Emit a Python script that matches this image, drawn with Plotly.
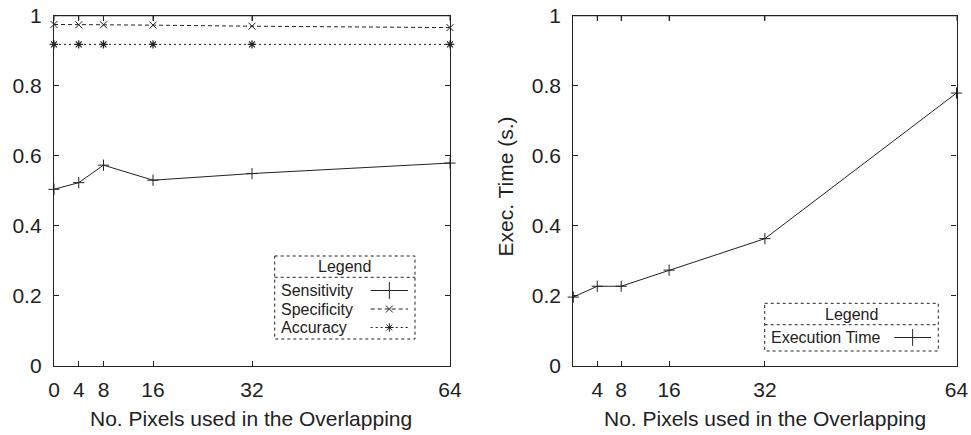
import plotly.graph_objects as go

W, H = 971, 435

# ---- data ----
pixels = [0, 4, 8, 16, 32, 64]
sensitivity = [0.504, 0.523, 0.573, 0.530, 0.549, 0.579]
specificity = [0.975, 0.974, 0.974, 0.973, 0.970, 0.966]
accuracy = [0.918, 0.918, 0.918, 0.918, 0.918, 0.918]
exec_time = [0.196, 0.227, 0.227, 0.273, 0.363, 0.779]

left_xticks = [0, 4, 8, 16, 32, 64]
right_xticks = [4, 8, 16, 32, 64]
yticks = [0, 0.2, 0.4, 0.6, 0.8, 1]
ytick_text = ["0", "0.2", "0.4", "0.6", "0.8", "1"]

FONT = "Liberation Sans, Arial, Helvetica, sans-serif"
INK = "#222222"
BIG = 21
TICKLEN = 5
PLOT_TOP, PLOT_BOTTOM = 15.7, 365.7

def px_x(v):
    return v / W

def px_y(v):
    return 1 - v / H

fig = go.Figure()

mk = dict(color=INK, size=8, line=dict(color=INK, width=1))

fig.add_trace(go.Scatter(x=pixels, y=sensitivity, mode="lines+markers",
                         line=dict(color=INK, width=1),
                         marker=dict(symbol="cross-thin-open", **mk),
                         xaxis="x", yaxis="y", showlegend=False, cliponaxis=False))
fig.add_trace(go.Scatter(x=pixels, y=specificity, mode="lines+markers",
                         line=dict(color=INK, width=1, dash="4px,3px"),
                         marker=dict(symbol="x-thin-open", color=INK, size=7,
                                     line=dict(color=INK, width=1)),
                         xaxis="x", yaxis="y", showlegend=False, cliponaxis=False))
fig.add_trace(go.Scatter(x=pixels, y=accuracy, mode="lines+markers",
                         line=dict(color=INK, width=1, dash="2px,3px"),
                         marker=dict(symbol="asterisk-open", color=INK, size=7,
                                     line=dict(color=INK, width=1.2)),
                         xaxis="x", yaxis="y", showlegend=False, cliponaxis=False))
fig.add_trace(go.Scatter(x=pixels, y=exec_time, mode="lines+markers",
                         line=dict(color=INK, width=1),
                         marker=dict(symbol="cross-thin-open", **mk),
                         xaxis="x2", yaxis="y2", showlegend=False, cliponaxis=False))

ydom = [px_y(PLOT_BOTTOM), px_y(PLOT_TOP)]
axis_common = dict(showline=True, linecolor=INK, linewidth=1.3, mirror="allticks",
                   ticks="inside", ticklen=TICKLEN, tickcolor=INK, tickwidth=1,
                   showgrid=False, zeroline=False, automargin=False,
                   ticklabeloverflow="allow",
                   tickfont=dict(family=FONT, size=BIG, color=INK))

fig.update_layout(
    width=W, height=H,
    margin=dict(l=0, r=0, t=0, b=0),
    paper_bgcolor="white", plot_bgcolor="rgba(0,0,0,0)",
    font=dict(family=FONT, color=INK),
    xaxis=dict(domain=[px_x(54), px_x(450)], range=[0, 64],
               tickvals=left_xticks, ticktext=[str(v) for v in left_xticks],
               ticklabelstandoff=5, anchor="y", **axis_common),
    yaxis=dict(domain=ydom, range=[0, 1], tickvals=yticks, ticktext=ytick_text,
               ticklabelstandoff=7, anchor="x", **axis_common),
    xaxis2=dict(domain=[px_x(573.3), px_x(956.5)], range=[0, 64],
                tickvals=right_xticks, ticktext=[str(v) for v in right_xticks],
                ticklabelstandoff=5, anchor="y2", **axis_common),
    yaxis2=dict(domain=ydom, range=[0, 1], tickvals=yticks, ticktext=ytick_text,
                ticklabelstandoff=7, anchor="x2", **axis_common),
    # overlay axis in pixel units for legend samples
    xaxis3=dict(domain=[0, 1], range=[0, W], visible=False, anchor="y3"),
    yaxis3=dict(domain=[0, 1], range=[H, 0], visible=False, anchor="x3"),
)

annotations = []
shapes = []

# top frame line and top ticks (mirrored x axis) for both panels
tick_frac = TICKLEN / (PLOT_BOTTOM - PLOT_TOP)
for xr, yr, ticks in (("x", "y", left_xticks), ("x2", "y2", right_xticks)):
    shapes.append(dict(type="line", xref=f"{xr} domain", yref=f"{yr} domain",
                       x0=0, x1=1, y0=1, y1=1, line=dict(color=INK, width=1.3),
                       layer="above"))
    for v in ticks:
        shapes.append(dict(type="line", xref=xr, yref=f"{yr} domain",
                           x0=v, x1=v, y0=1, y1=1 - tick_frac,
                           line=dict(color=INK, width=1), layer="above"))

# axis titles
for cx in (251, 765):
    annotations.append(dict(text="No. Pixels used in the Overlapping", x=px_x(cx), y=px_y(418),
                            xref="paper", yref="paper", showarrow=False,
                            font=dict(family=FONT, size=BIG, color=INK),
                            xanchor="center", yanchor="middle"))
annotations.append(dict(text="Exec. Time (s.)", x=px_x(504.5), y=px_y(187),
                        xref="paper", yref="paper", showarrow=False, textangle=-90,
                        font=dict(family=FONT, size=BIG, color=INK),
                        xanchor="center", yanchor="middle"))

def legend_box(x0, x1, y0, ysep, y1):
    shapes.append(dict(type="rect", xref="paper", yref="paper",
                       x0=px_x(x0), x1=px_x(x1), y0=px_y(y0), y1=px_y(y1),
                       line=dict(color=INK, width=1, dash="dot"), layer="above"))
    shapes.append(dict(type="line", xref="paper", yref="paper",
                       x0=px_x(x0), x1=px_x(x1), y0=px_y(ysep), y1=px_y(ysep),
                       line=dict(color=INK, width=1, dash="dot"), layer="above"))
    annotations.append(dict(text="Legend", x=px_x((x0 + x1) / 2), y=px_y((y0 + ysep) / 2),
                            xref="paper", yref="paper", showarrow=False,
                            font=dict(family=FONT, size=16, color=INK),
                            xanchor="center", yanchor="middle"))

def legend_entry(label, tx, ty, lx0, lx1, dash, symbol, size):
    annotations.append(dict(text=label, x=px_x(tx), y=px_y(ty), xref="paper", yref="paper",
                            showarrow=False, font=dict(family=FONT, size=16, color=INK),
                            xanchor="left", yanchor="middle"))
    shapes.append(dict(type="line", xref="paper", yref="paper",
                       x0=px_x(lx0), x1=px_x(lx1), y0=px_y(ty), y1=px_y(ty),
                       line=dict(color=INK, width=1, dash=dash), layer="above"))
    fig.add_trace(go.Scatter(x=[(lx0 + lx1) / 2], y=[ty], mode="markers",
                             marker=dict(symbol=symbol, size=size, color=INK,
                                         line=dict(color=INK, width=1)),
                             xaxis="x3", yaxis="y3", showlegend=False, hoverinfo="skip"))

legend_box(274.7, 415, 256, 277.3, 339)
legend_entry("Sensitivity", 279, 290.5, 370.7, 408, "solid", "cross-thin-open", 12)
legend_entry("Specificity", 279, 309, 370.7, 408, "4px,3px", "x-thin-open", 7)
legend_entry("Accuracy", 279, 327.5, 370.7, 408, "2px,3px", "asterisk-open", 7)

legend_box(764.7, 938.3, 303.3, 324.7, 351)
legend_entry("Execution Time", 769, 337.5, 894.3, 931, "solid", "cross-thin-open", 12)

fig.update_layout(annotations=annotations, shapes=shapes)

fig.write_html("out.html", config={"displayModeBar": False},
               post_script="document.body.style.margin='0';document.body.style.overflow='hidden';")
